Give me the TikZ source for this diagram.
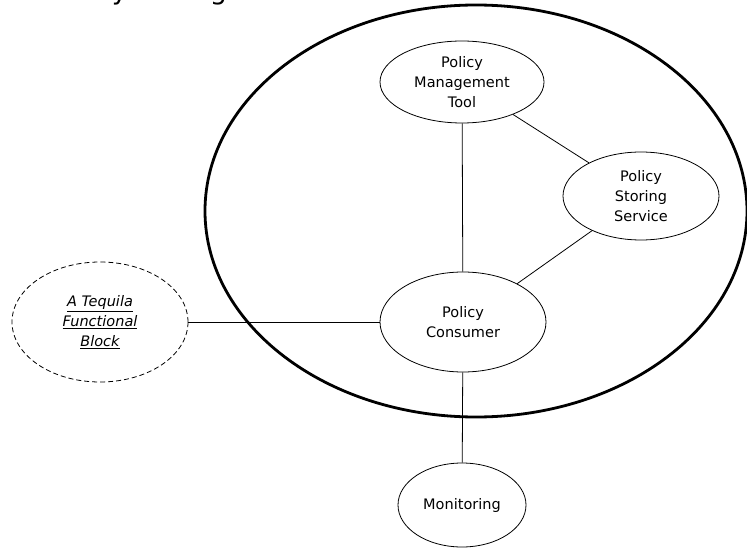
\documentclass[tikz,border=0pt]{standalone}
\usepackage{fontspec}
\setmainfont{DejaVu Sans}
\usetikzlibrary{shapes.geometric}
\begin{document}
\begin{tikzpicture}[x=1pt,y=-1pt,
  comp/.style={draw, ellipse, line width=0.8pt, inner sep=0pt, align=center, font=\fontsize{14.5}{20}\selectfont},
  link/.style={line width=0.8pt}]
\useasboundingbox (0,0) rectangle (747,548);
\clip (0,0) rectangle (747,548);
\node[anchor=base west, font=\fontsize{27}{30}\selectfont, inner sep=0pt] (title) at (50,-0.5) {Policy Management};
\draw[line width=2.8pt] (476,211) ellipse [x radius=271, y radius=206];
\node[comp, minimum width=164, minimum height=82] (pmt) at (462,82) {Policy\\Management\\Tool};
\node[comp, minimum width=156, minimum height=88] (pss) at (641,196) {Policy\\Storing\\Service};
\node[comp, minimum width=166, minimum height=100] (pc) at (463,322) {Policy\\Consumer};
\node[comp, minimum width=128, minimum height=84] (mon) at (462,505) {Monitoring};
\node[comp, dash pattern=on 5pt off 3pt, minimum width=176, minimum height=120, font=\fontsize{14.5}{20}\selectfont\itshape] (teq) at (100,322) {\underline{A Tequila}\\\underline{Functional}\\\underline{Block}};
\draw[link] (pmt) -- (pc);
\draw[link] (pmt) -- (pss);
\draw[link] (pss) -- (pc);
\draw[link] (teq) -- (pc);
\draw[link] (pc) -- (mon);
\end{tikzpicture}
\end{document}
